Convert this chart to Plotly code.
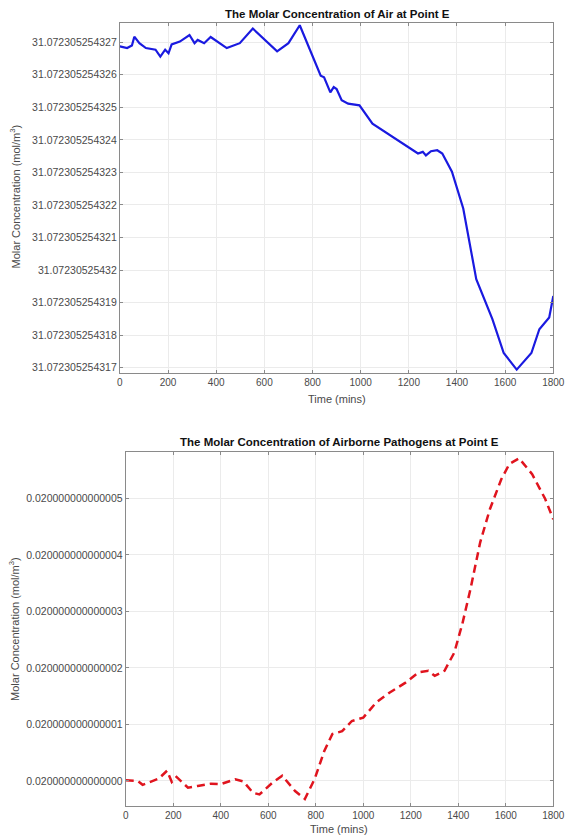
import plotly.graph_objects as go

# Air concentration at Point E (offset from 31.0723052543, in units of 1e-12 mol/m^3)
air_time = [0, 30, 50, 60, 81, 108, 148, 168, 188, 202, 215, 249, 289, 310, 323, 350,
            377, 404, 444, 498, 552, 653, 700, 747, 834, 848, 868, 874, 888, 900, 921,
            948, 995, 1049, 1238, 1258, 1271, 1292, 1318, 1339, 1379, 1413, 1426, 1480,
            1547, 1594, 1648, 1709, 1742, 1783, 1796, 1800]
air_conc = [26.87, 26.82, 26.9, 27.17, 26.97, 26.82, 26.77, 26.56, 26.77, 26.66, 26.93,
            27.02, 27.22, 26.97, 27.07, 26.97, 27.16, 27.02, 26.82, 26.97, 27.42, 26.72,
            26.97, 27.52, 25.97, 25.92, 25.56, 25.46, 25.62, 25.56, 25.22, 25.11, 25.06,
            24.5, 23.58, 23.63, 23.52, 23.65, 23.68, 23.58, 23.02, 22.25, 21.89, 19.72,
            18.49, 17.45, 16.94, 17.45, 18.18, 18.54, 19.0, 19.2]

# Airborne pathogen concentration at Point E (offset from 0.02, in units of 1e-15 mol/m^3)
path_time = [0, 50, 71, 98, 139, 174, 194, 214, 262, 303, 358, 399, 461, 495, 536, 563,
             618, 659, 713, 754, 795, 836, 870, 911, 952, 1000, 1055, 1110, 1178, 1233,
             1274, 1301, 1342, 1383, 1417, 1451, 1492, 1533, 1581, 1615, 1656, 1711,
             1766, 1800]
path_conc = [0.01, 0.0, -0.07, -0.03, 0.04, 0.18, -0.02, 0.07, -0.12, -0.09, -0.05,
             -0.06, 0.03, -0.01, -0.21, -0.24, -0.03, 0.09, -0.18, -0.32, 0.03, 0.53,
             0.83, 0.88, 1.06, 1.12, 1.39, 1.56, 1.74, 1.92, 1.95, 1.86, 1.95, 2.27,
             2.78, 3.39, 4.22, 4.81, 5.34, 5.61, 5.71, 5.43, 4.99, 4.63]

time_ticks = [0, 200, 400, 600, 800, 1000, 1200, 1400, 1600, 1800]
air_tick_vals = [17, 18, 19, 20, 21, 22, 23, 24, 25, 26, 27]
air_tick_text = ["31.072305254317", "31.072305254318", "31.072305254319",
                 "31.07230525432", "31.072305254321", "31.072305254322",
                 "31.072305254323", "31.072305254324", "31.072305254325",
                 "31.072305254326", "31.072305254327"]
path_tick_vals = [0, 1, 2, 3, 4, 5]
path_tick_text = ["0.020000000000000", "0.020000000000001", "0.020000000000002",
                  "0.020000000000003", "0.020000000000004", "0.020000000000005"]

W, H = 577, 837
FONT = "Liberation Sans, Arial, sans-serif"
X_TICK_FONT = dict(family=FONT, size=10, color="#4a4a4a")
Y_TICK_FONT = dict(family=FONT, size=10.5, color="#4a4a4a")
AXIS_LINE = "#8a8a8a"
GRID = "#ebebeb"


def px_x(p):
    return p / W


def px_y(p):
    return 1 - p / H


fig = go.Figure()

fig.add_trace(go.Scatter(x=air_time, y=air_conc, mode="lines",
                         line=dict(color="#1a1ae0", width=2.2),
                         xaxis="x", yaxis="y", showlegend=False))
fig.add_trace(go.Scatter(x=path_time, y=path_conc, mode="lines",
                         line=dict(color="#e0141e", width=2.5, dash="8px,5px"),
                         xaxis="x2", yaxis="y2", showlegend=False))

common_axis = dict(showline=True, linecolor=AXIS_LINE, linewidth=1, mirror="ticks",
                   ticks="inside", ticklen=3, tickcolor=AXIS_LINE,
                   showgrid=True, gridcolor=GRID, gridwidth=1, zeroline=False)

fig.update_layout(
    width=W, height=H,
    margin=dict(l=0, r=0, t=0, b=0),
    paper_bgcolor="white", plot_bgcolor="white",
    xaxis=dict(common_axis, domain=[px_x(120), px_x(565)], range=[0, 1800],
               tickvals=time_ticks, tickfont=X_TICK_FONT, anchor="y"),
    yaxis=dict(common_axis, domain=[px_y(373), px_y(22.7)], range=[16.85, 27.6],
               tickvals=air_tick_vals, ticktext=air_tick_text, tickfont=Y_TICK_FONT,
               anchor="x"),
    xaxis2=dict(common_axis, domain=[px_x(126), px_x(565)], range=[0, 1800],
                tickvals=time_ticks, tickfont=X_TICK_FONT, anchor="y2"),
    yaxis2=dict(common_axis, domain=[px_y(806.7), px_y(452.7)], range=[-0.44, 5.82],
                tickvals=path_tick_vals, ticktext=path_tick_text, tickfont=Y_TICK_FONT,
                anchor="x2"),
)

title_font = dict(family=FONT, size=11.5, color="#111111")
label_font = dict(family=FONT, size=11, color="#4a4a4a")

annotations = [
    dict(text="<b>The Molar Concentration of Air at Point E</b>",
         x=px_x(343), y=px_y(14), font=title_font),
    dict(text="<b>The Molar Concentration of Airborne Pathogens at Point E</b>",
         x=px_x(345), y=px_y(443), font=title_font),
    dict(text="Time (mins)", x=px_x(343), y=px_y(399), font=label_font),
    dict(text="Time (mins)", x=px_x(345), y=px_y(830), font=label_font),
    dict(text="Molar Concentration (mol/m<sup>3</sup>)", x=px_x(12), y=px_y(197),
         textangle=-90, font=label_font),
    dict(text="Molar Concentration (mol/m<sup>3</sup>)", x=px_x(12), y=px_y(630),
         textangle=-90, font=label_font),
]
for a in annotations:
    fig.add_annotation(xref="paper", yref="paper", showarrow=False,
                       xanchor="center", yanchor="middle", **a)

fig.write_html("out.html")
